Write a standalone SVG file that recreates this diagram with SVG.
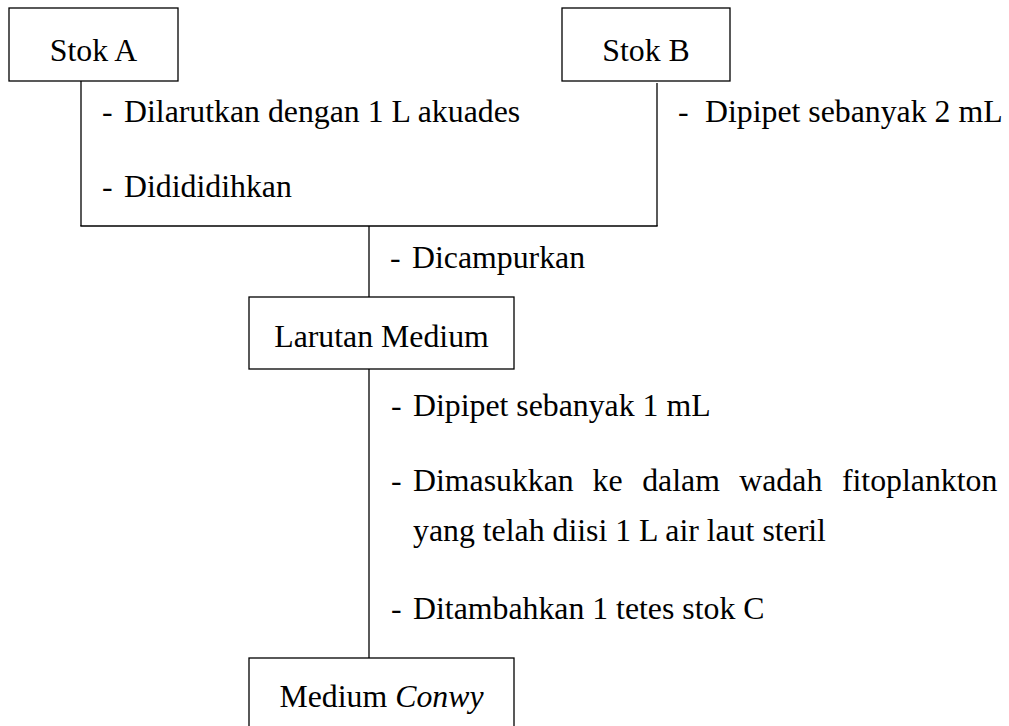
<svg xmlns="http://www.w3.org/2000/svg" width="1009" height="726" viewBox="0 0 1009 726">
<style>
.box{fill:#fff;stroke:#000;stroke-width:1.3}
.ln{fill:none;stroke:#000;stroke-width:1.3}
text{font-family:"Liberation Serif","Times New Roman",serif;font-size:31.8px;fill:#000}
.c{text-anchor:middle}
</style>
<rect width="1009" height="726" fill="#fff"/>
<g id="connectors">
<path class="ln" d="M81 81V226"/>
<path class="ln" d="M657 83V226"/>
<path class="ln" d="M80.35 226H657.65"/>
<path class="ln" d="M369 226V297"/>
<path class="ln" d="M369 369V658"/>
</g>
<g id="stokA">
<rect class="box" x="9" y="8" width="169" height="73"/>
<text class="c" x="93.5" y="61">Stok A</text>
</g>
<g id="stokB">
<rect class="box" x="562" y="8" width="168" height="73"/>
<text class="c" x="646" y="61">Stok B</text>
</g>
<g id="labelA">
<text x="102" y="122">-</text><text x="124" y="122">Dilarutkan dengan 1 L akuades</text>
<text x="102" y="197">-</text><text x="124" y="197">Didididihkan</text>
</g>
<g id="labelB">
<text x="678" y="122">-</text><text x="705" y="122">Dipipet sebanyak 2 mL</text>
</g>
<g id="labelMix">
<text x="390" y="268">-</text><text x="412" y="268">Dicampurkan</text>
</g>
<g id="larutanMedium">
<rect class="box" x="249" y="297" width="265" height="72"/>
<text class="c" x="381.5" y="347">Larutan Medium</text>
</g>
<g id="labelSteps">
<text x="391" y="416">-</text><text x="413" y="416">Dipipet sebanyak 1 mL</text>
<text x="391" y="491">-</text><text y="491"><tspan x="413">Dimasukkan</tspan><tspan x="592.6">ke</tspan><tspan x="642.2">dalam</tspan><tspan x="739.3">wadah</tspan><tspan x="841.9">fitoplankton</tspan></text>
<text x="413" y="541">yang telah diisi 1 L air laut steril</text>
<text x="391" y="619">-</text><text x="413" y="619">Ditambahkan 1 tetes stok C</text>
</g>
<g id="mediumConwy">
<rect class="box" x="249" y="658" width="265" height="90"/>
<text class="c" x="381.5" y="707">Medium <tspan font-style="italic">Conwy</tspan></text>
</g>
</svg>
